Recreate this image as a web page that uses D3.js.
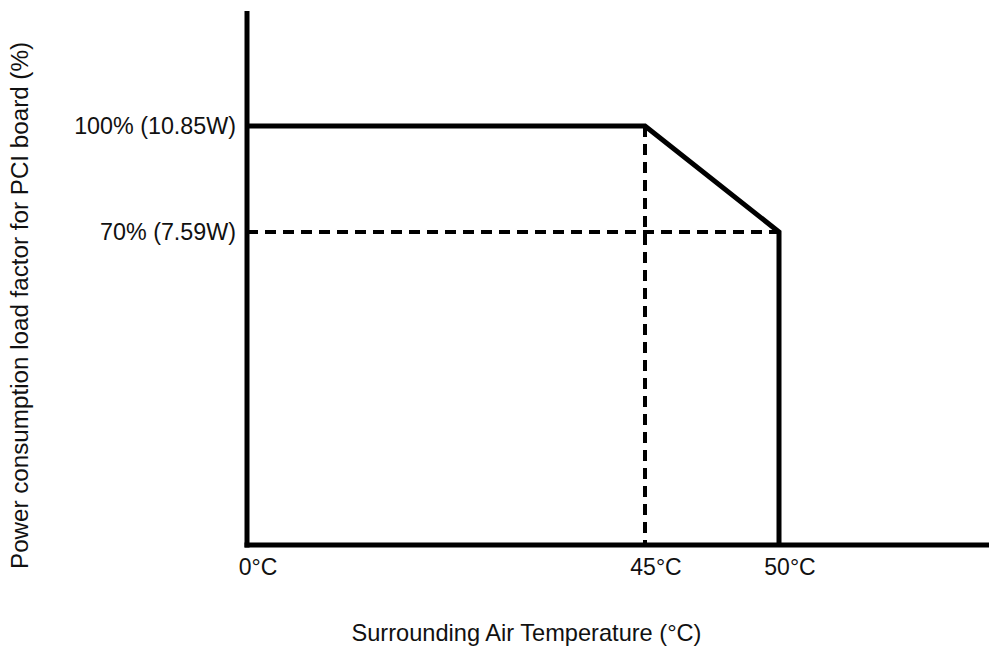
<!DOCTYPE html>
<html>
<head>
<meta charset="utf-8">
<script src="https://cdn.jsdelivr.net/npm/d3@7"></script>
<style>
  html, body { margin: 0; padding: 0; background: #fff; }
  svg { display: block; font-family: "Liberation Sans", Arial, sans-serif; }
</style>
</head>
<body>
<svg id="chart" width="989" height="647"></svg>
<script>
// Temperature breakpoints (°C) and their tick labels
const temps = [0, 45, 50];
const tempLabels = ["0°C", "45°C", "50°C"];

// Load factor levels (%) and their tick labels
const loadTicks = [100, 70];
const loadLabels = ["100% (10.85W)", "70% (7.59W)"];

// Derating curve: temperature (°C) vs. allowed load factor (%)
const curveTemp = [0, 45, 50, 50];
const curveLoad = [100, 100, 70, 0];

const xTitle = "Surrounding Air Temperature (°C)";
const yTitle = "Power consumption load factor for PCI board (%)";

const svg = d3.select("#chart");
const W = 989;

// Schematic (piecewise) scales: the breakpoints are spaced for readability
const x = d3.scaleLinear().domain(temps).range([247, 645, 779]);
const y = d3.scaleLinear().domain([0, 70, 100]).range([545, 232, 126]);

const ink = "#000";

// Guide lines (dashed) from the knee points
const guides = svg.append("g")
  .attr("fill", "none").attr("stroke", ink)
  .attr("stroke-width", 4).attr("stroke-dasharray", "11,7");
guides.append("line")
  .attr("x1", x(0)).attr("x2", x(50))
  .attr("y1", y(70)).attr("y2", y(70));
guides.append("line")
  .attr("x1", x(45)).attr("x2", x(45))
  .attr("y1", y(100)).attr("y2", y(0));

// Derating curve
const pts = curveTemp.map((t, i) => [t, curveLoad[i]]);
svg.append("path")
  .datum(pts)
  .attr("fill", "none").attr("stroke", ink)
  .attr("stroke-width", 5).attr("stroke-linejoin", "miter")
  .attr("d", d3.line().x(d => x(d[0])).y(d => y(d[1])));

// Axes lines
svg.append("line")
  .attr("x1", x(0)).attr("x2", x(0))
  .attr("y1", 11).attr("y2", y(0) + 2.5)
  .attr("stroke", ink).attr("stroke-width", 5);
svg.append("line")
  .attr("x1", x(0) - 2.5).attr("x2", W)
  .attr("y1", y(0)).attr("y2", y(0))
  .attr("stroke", ink).attr("stroke-width", 5);

// X tick labels
svg.append("g").selectAll("text")
  .data(temps)
  .join("text")
  .attr("x", d => x(d) + 11)
  .attr("y", 575)
  .attr("text-anchor", "middle")
  .attr("font-size", 23)
  .attr("fill", "#111")
  .text((d, i) => tempLabels[i]);

// Y tick labels
svg.append("g").selectAll("text")
  .data(loadTicks)
  .join("text")
  .attr("x", 236)
  .attr("y", d => y(d) + 7.5)
  .attr("text-anchor", "end")
  .attr("font-size", 23.3)
  .attr("fill", "#111")
  .text((d, i) => loadLabels[i]);

// Axis titles
svg.append("text")
  .attr("x", 526.5).attr("y", 641)
  .attr("text-anchor", "middle")
  .attr("font-size", 23.6)
  .attr("fill", "#111")
  .text(xTitle);

svg.append("text")
  .attr("transform", "translate(28,305.5) rotate(-90)")
  .attr("text-anchor", "middle")
  .attr("font-size", 24.2)
  .attr("fill", "#111")
  .text(yTitle);
</script>
</body>
</html>
